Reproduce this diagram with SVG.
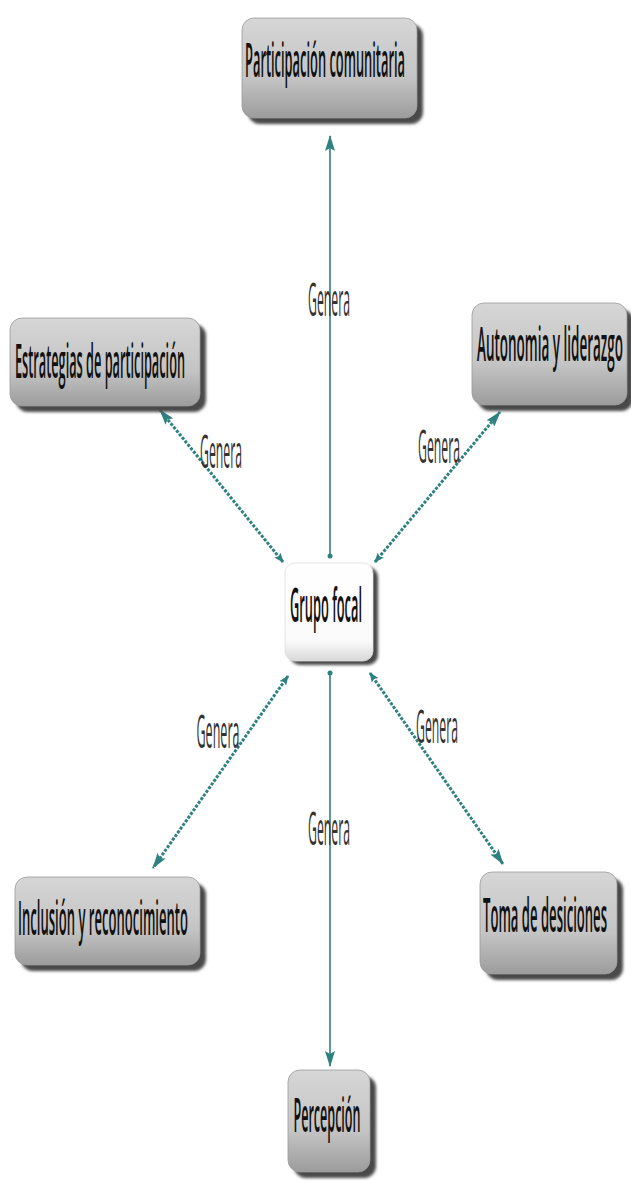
<svg xmlns="http://www.w3.org/2000/svg" width="631" height="1184" viewBox="0 0 631 1184">
<style>
.lbl{font-family:"Open Sans","DejaVu Sans",sans-serif;font-size:14px;font-weight:600;fill:#111;text-anchor:middle}
.gen{font-family:"Open Sans","DejaVu Sans",sans-serif;font-size:14px;font-weight:400;fill:#333;text-anchor:middle}
.box{fill:url(#gray);stroke:#9a9a9a;stroke-width:0.8}
.wbox{fill:url(#white);stroke:#dddddd;stroke-width:0.8}
.sh{fill:#4a4a4a;filter:url(#blur)}
.dot{fill:none;stroke:#2f8181;stroke-width:3;stroke-dasharray:3 1.5}
.sol{fill:none;stroke:#2f8181;stroke-width:1.6}
.tip{fill:#2f8181}
</style>
<defs>
<linearGradient id="gray" x1="0" y1="0" x2="0" y2="1">
<stop offset="0" stop-color="#d6d6d6"/>
<stop offset="0.6" stop-color="#c4c4c4"/>
<stop offset="1" stop-color="#9c9c9c"/>
</linearGradient>
<linearGradient id="white" x1="0" y1="0" x2="0" y2="1">
<stop offset="0" stop-color="#ffffff"/>
<stop offset="0.8" stop-color="#fafafa"/>
<stop offset="1" stop-color="#d8d8d8"/>
</linearGradient>
<filter id="blur" x="-10%" y="-10%" width="130%" height="130%"><feGaussianBlur stdDeviation="1.5"/></filter>
<marker id="big" viewBox="0 0 16 10" refX="15" refY="5" markerWidth="16" markerHeight="10" markerUnits="userSpaceOnUse" orient="auto-start-reverse"><path class="tip" d="M0,0 L16,5 L0,10 L3,5 Z"/></marker>
<marker id="small" viewBox="0 0 10 8" refX="9" refY="4" markerWidth="10" markerHeight="8" markerUnits="userSpaceOnUse" orient="auto-start-reverse"><path class="tip" d="M0,0 L10,4 L0,8 L2,4 Z"/></marker>
<marker id="dotm" viewBox="0 0 6 6" refX="3" refY="3" markerWidth="6" markerHeight="6" markerUnits="userSpaceOnUse"><circle class="tip" cx="3" cy="3" r="2.5"/></marker>
</defs>
<rect width="631" height="1184" fill="#ffffff"/>
<g id="connectors">
<path class="sol" d="M330,556 L330,136" marker-start="url(#dotm)" marker-end="url(#big)"/>
<path class="sol" d="M330,673 L330,1066" marker-start="url(#dotm)" marker-end="url(#big)"/>
<path class="dot" d="M283,562 L160,410" marker-start="url(#small)" marker-end="url(#big)"/>
<path class="dot" d="M375,562 L500,412" marker-start="url(#small)" marker-end="url(#big)"/>
<path class="dot" d="M288,676 L153,868" marker-start="url(#small)" marker-end="url(#big)"/>
<path class="dot" d="M370,673 L503,864" marker-start="url(#small)" marker-end="url(#big)"/>
<text class="gen" transform="translate(329,316) scale(1,3.3)" textLength="42" lengthAdjust="spacingAndGlyphs">Genera</text>
<text class="gen" transform="translate(221,468) scale(1,3.3)" textLength="42" lengthAdjust="spacingAndGlyphs">Genera</text>
<text class="gen" transform="translate(439,463) scale(1,3.3)" textLength="42" lengthAdjust="spacingAndGlyphs">Genera</text>
<text class="gen" transform="translate(218,748) scale(1,3.3)" textLength="43" lengthAdjust="spacingAndGlyphs">Genera</text>
<text class="gen" transform="translate(437,743) scale(1,3.3)" textLength="42" lengthAdjust="spacingAndGlyphs">Genera</text>
<text class="gen" transform="translate(329,845) scale(1,3.3)" textLength="42" lengthAdjust="spacingAndGlyphs">Genera</text>
</g>
<g id="node-participacion">
<rect class="sh" x="248" y="24" width="175" height="100" rx="12"/>
<rect class="box" x="242" y="18" width="175" height="100" rx="12"/>
<text class="lbl" transform="translate(325,77) scale(1,3.3)" textLength="160" lengthAdjust="spacingAndGlyphs">Participación comunitaria</text>
</g>
<g id="node-estrategias">
<rect class="sh" x="16" y="324" width="190" height="88" rx="12"/>
<rect class="box" x="10" y="318" width="190" height="88" rx="12"/>
<text class="lbl" transform="translate(100,378) scale(1,3.3)" textLength="170" lengthAdjust="spacingAndGlyphs">Estrategias de participación</text>
</g>
<g id="node-autonomia">
<rect class="sh" x="478" y="309" width="155" height="102" rx="12"/>
<rect class="box" x="472" y="303" width="155" height="102" rx="12"/>
<text class="lbl" transform="translate(550,361) scale(1,3.3)" textLength="146" lengthAdjust="spacingAndGlyphs">Autonomia y  liderazgo</text>
</g>
<g id="node-grupo">
<rect class="sh" x="290" y="567" width="88" height="98" rx="10"/>
<rect class="wbox" x="285" y="563" width="88" height="98" rx="10"/>
<text class="lbl" transform="translate(326,622) scale(1,3.3)" textLength="72" lengthAdjust="spacingAndGlyphs">Grupo focal</text>
</g>
<g id="node-inclusion">
<rect class="sh" x="21" y="883" width="185" height="88" rx="12"/>
<rect class="box" x="15" y="877" width="185" height="88" rx="12"/>
<text class="lbl" transform="translate(103,935) scale(1,3.3)" textLength="170" lengthAdjust="spacingAndGlyphs">Inclusión y reconocimiento</text>
</g>
<g id="node-toma">
<rect class="sh" x="486" y="878" width="137" height="102" rx="12"/>
<rect class="box" x="480" y="872" width="137" height="102" rx="12"/>
<text class="lbl" transform="translate(545,932) scale(1,3.3)" textLength="124" lengthAdjust="spacingAndGlyphs">Toma de desiciones</text>
</g>
<g id="node-percepcion">
<rect class="sh" x="294" y="1076" width="82" height="102" rx="12"/>
<rect class="box" x="288" y="1070" width="82" height="102" rx="12"/>
<text class="lbl" transform="translate(327,1132) scale(1,3.3)" textLength="67" lengthAdjust="spacingAndGlyphs">Percepción</text>
</g>
</svg>
